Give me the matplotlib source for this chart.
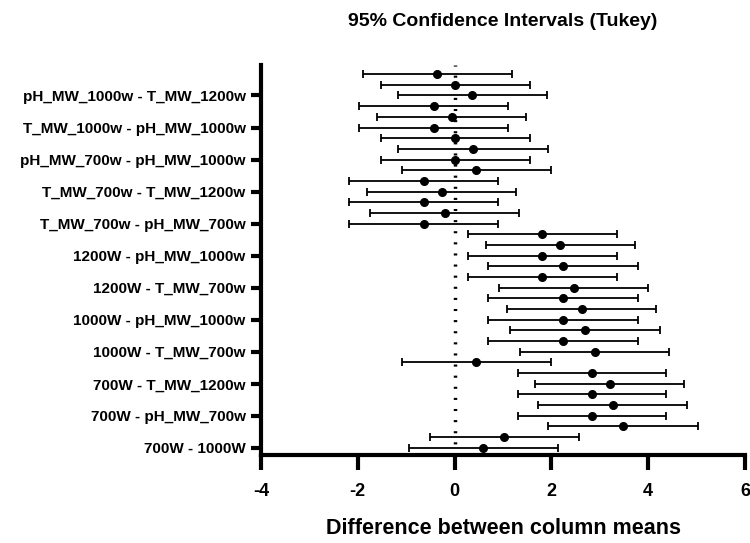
import matplotlib
matplotlib.use("Agg")
import matplotlib.pyplot as plt

plt.rcParams['font.family'] = ['Liberation Sans', 'DejaVu Sans']

groups = ["700W", "1000W", "1200W", "T_MW_700w", "pH_MW_700w",
          "T_MW_1000w", "pH_MW_1000w", "T_MW_1200w", "pH_MW_1200w"]

# comparisons in Prism order (first one plotted at the bottom)
comparisons = [f"{a} - {b}" for i, a in enumerate(groups) for b in groups[i + 1:]]

means = [0.59, 1.03, 3.48, 2.84, 3.27, 2.84, 3.21, 2.84, 0.45, 2.90,
         2.25, 2.69, 2.25, 2.63, 2.25, 2.46, 1.81, 2.25, 1.81, 2.18,
         1.81, -0.64, -0.20, -0.64, -0.27, -0.64, 0.45, 0.01, 0.38, 0.01,
         -0.43, -0.06, -0.43, 0.37, 0.01, -0.36]
lower = [-0.95, -0.51, 1.94, 1.30, 1.73, 1.30, 1.67, 1.30, -1.09, 1.36,
         0.70, 1.15, 0.70, 1.08, 0.70, 0.92, 0.27, 0.70, 0.27, 0.64,
         0.27, -2.18, -1.74, -2.18, -1.81, -2.18, -1.09, -1.53, -1.16, -1.53,
         -1.97, -1.60, -1.97, -1.17, -1.53, -1.90]
upper = [2.13, 2.57, 5.02, 4.37, 4.81, 4.37, 4.75, 4.37, 1.99, 4.44,
         3.79, 4.24, 3.79, 4.17, 3.79, 4.00, 3.35, 3.79, 3.35, 3.72,
         3.35, 0.90, 1.34, 0.90, 1.27, 0.90, 1.99, 1.55, 1.92, 1.55,
         1.10, 1.48, 1.10, 1.91, 1.55, 1.18]

x_ticks = [-4, -2, 0, 2, 4, 6]

fig = plt.figure(figsize=(7.5, 5.43), dpi=100)
ax = fig.add_axes([0.348, 0.162, 0.6453, 0.718])

ypos = list(range(len(comparisons)))
err_lo = [m - l for m, l in zip(means, lower)]
err_hi = [u - m for m, u in zip(means, upper)]

ax.axvline(0, color='black', linestyle=(0, (0.6, 2.6)), linewidth=2.5, zorder=1)
ax.errorbar(means, ypos, xerr=[err_lo, err_hi], fmt='o', color='black',
            ecolor='black', elinewidth=1.3, capsize=3.0, capthick=1.3,
            markersize=5.5, zorder=3)

ax.set_xlim(-4, 6)
ax.set_ylim(-0.68, 35.84)
ax.set_xticks(x_ticks)
ax.set_xticklabels([str(t) for t in x_ticks], fontsize=13, fontweight='bold')
ax.set_yticks(ypos[::3])
ax.set_yticklabels(comparisons[::3], fontsize=11, fontweight='bold')

for s in ['top', 'right']:
    ax.spines[s].set_visible(False)
for s in ['left', 'bottom']:
    ax.spines[s].set_linewidth(3)
ax.tick_params(axis='x', direction='out', length=11, width=3, pad=9)
ax.tick_params(axis='y', direction='out', length=7, width=3, pad=4)

fig.text(0.6707, 1 - 528 / 543, "Difference between column means",
         fontsize=15.5, fontweight='bold', ha='center', va='center')
fig.text(0.6707, 1 - 22 / 543, "95% Confidence Intervals (Tukey)",
         fontsize=14, fontweight='bold', ha='center', va='center')

fig.savefig("out.png", dpi=100)
